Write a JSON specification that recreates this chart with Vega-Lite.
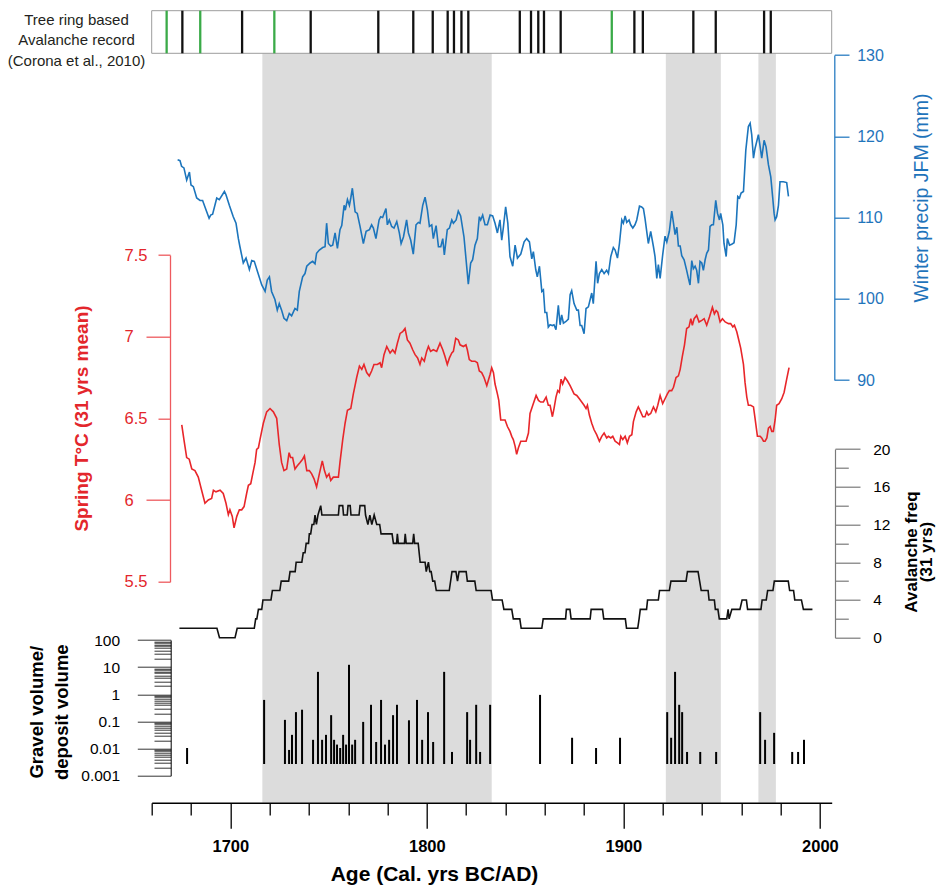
{
"$schema": "https://vega.github.io/schema/vega-lite/v6.json",
"width": 680, "height": 792,
"autosize": {"type": "none"},
"padding": {"left": 151.7, "top": 10.7, "right": 109.3, "bottom": 83.3},
"background": "white",
"config": {"view": {"stroke": null}, "axis": {"grid": false, "labelFont": "Liberation Sans", "titleFont": "Liberation Sans"}},
"datasets": {
"bands": [{"start": 1716.3, "end": 1833.0}, {"start": 1921.6, "end": 1949.6}, {"start": 1968.7, "end": 1977.6}],
"events": [
{"year": 1667.6, "kind": "green"}, {"year": 1675.6, "kind": "black"}, {"year": 1684.7, "kind": "green"}, {"year": 1706.0, "kind": "black"},
{"year": 1722.4, "kind": "green"}, {"year": 1740.9, "kind": "black"}, {"year": 1775.3, "kind": "black"}, {"year": 1793.1, "kind": "black"},
{"year": 1803.0, "kind": "black"}, {"year": 1810.6, "kind": "black"}, {"year": 1813.8, "kind": "black"}, {"year": 1817.6, "kind": "black"},
{"year": 1821.1, "kind": "black"}, {"year": 1847.3, "kind": "black"}, {"year": 1853.0, "kind": "black"}, {"year": 1856.7, "kind": "black"},
{"year": 1859.6, "kind": "black"}, {"year": 1868.1, "kind": "black"}, {"year": 1894.1, "kind": "green"}, {"year": 1905.6, "kind": "black"},
{"year": 1909.9, "kind": "black"}, {"year": 1935.6, "kind": "black"}, {"year": 1947.0, "kind": "black"}, {"year": 1971.6, "kind": "black"},
{"year": 1975.0, "kind": "black"}],
"precip": [
{"year":1673.2,"mm":117.1},{"year":1674.4,"mm":117.0},{"year":1675.2,"mm":116.3},{"year":1676.4,"mm":116.1},{"year":1677.8,"mm":114.6},{"year":1679.2,"mm":115.6},{"year":1680.0,"mm":114.0},{"year":1681.2,"mm":113.8},{"year":1682.9,"mm":112.4},{"year":1684.6,"mm":112.1},{"year":1685.9,"mm":112.1},{"year":1687.1,"mm":111.3},{"year":1689.2,"mm":109.9},{"year":1690.0,"mm":110.3},{"year":1691.0,"mm":110.4},{"year":1693.1,"mm":112.4},{"year":1694.4,"mm":112.2},{"year":1697.0,"mm":113.2},{"year":1697.8,"mm":112.8},{"year":1699.5,"mm":111.5},{"year":1701.5,"mm":110.1},{"year":1702.9,"mm":109.3},{"year":1704.1,"mm":107.4},{"year":1704.9,"mm":106.4},{"year":1706.6,"mm":104.4},{"year":1708.0,"mm":105.0},{"year":1709.7,"mm":103.6},{"year":1710.9,"mm":104.7},{"year":1712.2,"mm":104.6},{"year":1713.9,"mm":103.3},{"year":1716.0,"mm":101.7},{"year":1717.7,"mm":100.9},{"year":1718.8,"mm":102.3},{"year":1719.9,"mm":102.7},{"year":1721.0,"mm":100.9},{"year":1722.7,"mm":99.9},{"year":1723.9,"mm":98.6},{"year":1724.9,"mm":99.4},{"year":1726.1,"mm":98.6},{"year":1727.3,"mm":97.6},{"year":1728.7,"mm":97.3},{"year":1730.0,"mm":98.2},{"year":1731.2,"mm":97.9},{"year":1732.9,"mm":98.8},{"year":1734.1,"mm":98.6},{"year":1735.1,"mm":100.9},{"year":1736.8,"mm":102.7},{"year":1738.0,"mm":103.1},{"year":1738.9,"mm":104.0},{"year":1740.6,"mm":104.4},{"year":1741.9,"mm":104.6},{"year":1743.1,"mm":104.3},{"year":1743.9,"mm":105.6},{"year":1745.3,"mm":106.0},{"year":1747.0,"mm":106.3},{"year":1748.2,"mm":106.4},{"year":1749.0,"mm":109.3},{"year":1749.9,"mm":106.8},{"year":1751.1,"mm":106.5},{"year":1752.1,"mm":106.6},{"year":1753.3,"mm":108.1},{"year":1754.5,"mm":106.2},{"year":1755.8,"mm":108.5},{"year":1756.7,"mm":109.0},{"year":1757.9,"mm":111.5},{"year":1758.5,"mm":110.9},{"year":1759.6,"mm":112.2},{"year":1760.6,"mm":111.5},{"year":1761.3,"mm":112.4},{"year":1762.1,"mm":113.6},{"year":1763.5,"mm":110.7},{"year":1764.6,"mm":110.5},{"year":1766.0,"mm":108.9},{"year":1767.7,"mm":106.8},{"year":1769.1,"mm":108.3},{"year":1770.8,"mm":108.5},{"year":1771.9,"mm":109.1},{"year":1772.8,"mm":108.7},{"year":1774.1,"mm":107.4},{"year":1775.7,"mm":109.7},{"year":1776.5,"mm":110.1},{"year":1777.5,"mm":110.0},{"year":1779.2,"mm":111.1},{"year":1779.9,"mm":109.1},{"year":1780.9,"mm":109.7},{"year":1782.1,"mm":108.9},{"year":1783.3,"mm":108.7},{"year":1784.7,"mm":109.5},{"year":1786.0,"mm":108.1},{"year":1786.9,"mm":106.8},{"year":1788.1,"mm":107.6},{"year":1789.7,"mm":109.7},{"year":1790.6,"mm":108.1},{"year":1791.8,"mm":107.2},{"year":1793.1,"mm":105.5},{"year":1794.5,"mm":109.1},{"year":1795.7,"mm":109.4},{"year":1796.5,"mm":109.3},{"year":1797.9,"mm":111.5},{"year":1799.1,"mm":112.5},{"year":1800.3,"mm":110.9},{"year":1801.3,"mm":108.9},{"year":1802.5,"mm":109.1},{"year":1803.3,"mm":107.4},{"year":1804.7,"mm":109.0},{"year":1805.9,"mm":106.4},{"year":1807.1,"mm":106.4},{"year":1808.1,"mm":107.4},{"year":1808.9,"mm":105.4},{"year":1810.4,"mm":108.5},{"year":1811.5,"mm":108.7},{"year":1812.7,"mm":109.7},{"year":1813.5,"mm":109.3},{"year":1814.9,"mm":109.7},{"year":1816.0,"mm":110.8},{"year":1817.2,"mm":110.2},{"year":1818.9,"mm":107.6},{"year":1821.1,"mm":101.8},{"year":1822.3,"mm":104.4},{"year":1823.3,"mm":104.8},{"year":1824.5,"mm":106.6},{"year":1825.7,"mm":107.4},{"year":1826.7,"mm":110.1},{"year":1827.4,"mm":109.7},{"year":1828.4,"mm":110.3},{"year":1829.6,"mm":109.1},{"year":1830.8,"mm":109.1},{"year":1832.2,"mm":110.3},{"year":1833.5,"mm":110.2},{"year":1834.7,"mm":109.3},{"year":1835.9,"mm":108.1},{"year":1837.2,"mm":109.7},{"year":1838.1,"mm":107.2},{"year":1838.9,"mm":108.7},{"year":1840.1,"mm":111.3},{"year":1841.2,"mm":109.3},{"year":1842.3,"mm":105.2},{"year":1843.7,"mm":104.0},{"year":1844.9,"mm":106.6},{"year":1846.1,"mm":105.0},{"year":1847.8,"mm":105.5},{"year":1849.5,"mm":107.0},{"year":1850.8,"mm":107.4},{"year":1852.2,"mm":107.0},{"year":1853.4,"mm":104.9},{"year":1854.2,"mm":105.8},{"year":1855.4,"mm":103.6},{"year":1856.2,"mm":102.7},{"year":1857.3,"mm":104.0},{"year":1858.5,"mm":100.9},{"year":1859.3,"mm":101.1},{"year":1860.1,"mm":98.3},{"year":1861.0,"mm":98.3},{"year":1861.8,"mm":96.5},{"year":1862.7,"mm":96.8},{"year":1863.9,"mm":96.7},{"year":1864.7,"mm":96.8},{"year":1865.7,"mm":96.2},{"year":1866.9,"mm":99.2},{"year":1867.8,"mm":96.8},{"year":1868.6,"mm":98.0},{"year":1869.5,"mm":97.0},{"year":1870.8,"mm":97.2},{"year":1872.0,"mm":97.5},{"year":1872.9,"mm":100.5},{"year":1873.7,"mm":101.0},{"year":1874.9,"mm":99.4},{"year":1876.3,"mm":98.6},{"year":1877.1,"mm":98.6},{"year":1878.0,"mm":96.7},{"year":1878.8,"mm":96.7},{"year":1880.0,"mm":95.7},{"year":1881.0,"mm":98.8},{"year":1882.2,"mm":99.0},{"year":1883.9,"mm":100.7},{"year":1884.7,"mm":99.4},{"year":1886.1,"mm":104.6},{"year":1886.9,"mm":101.9},{"year":1887.8,"mm":103.1},{"year":1889.0,"mm":103.6},{"year":1890.2,"mm":103.1},{"year":1891.5,"mm":103.5},{"year":1892.4,"mm":103.1},{"year":1893.6,"mm":105.2},{"year":1894.9,"mm":106.3},{"year":1895.8,"mm":106.0},{"year":1897.0,"mm":105.0},{"year":1898.0,"mm":106.8},{"year":1899.2,"mm":109.7},{"year":1900.0,"mm":109.3},{"year":1900.9,"mm":110.2},{"year":1901.7,"mm":109.4},{"year":1902.9,"mm":109.7},{"year":1903.7,"mm":109.1},{"year":1904.8,"mm":108.7},{"year":1905.9,"mm":109.1},{"year":1906.8,"mm":109.7},{"year":1908.2,"mm":111.4},{"year":1909.3,"mm":111.3},{"year":1910.2,"mm":111.1},{"year":1911.0,"mm":109.9},{"year":1912.7,"mm":106.8},{"year":1913.9,"mm":108.3},{"year":1915.3,"mm":106.4},{"year":1916.1,"mm":105.2},{"year":1917.0,"mm":102.5},{"year":1917.8,"mm":104.2},{"year":1918.7,"mm":102.5},{"year":1920.0,"mm":105.4},{"year":1921.2,"mm":107.7},{"year":1922.1,"mm":107.0},{"year":1923.4,"mm":108.3},{"year":1924.6,"mm":110.8},{"year":1925.5,"mm":109.3},{"year":1926.3,"mm":107.9},{"year":1927.2,"mm":108.8},{"year":1928.0,"mm":106.5},{"year":1928.9,"mm":106.5},{"year":1929.7,"mm":105.3},{"year":1930.9,"mm":104.8},{"year":1932.2,"mm":103.5},{"year":1933.1,"mm":102.5},{"year":1933.9,"mm":101.7},{"year":1934.8,"mm":104.7},{"year":1935.6,"mm":103.7},{"year":1936.5,"mm":104.0},{"year":1937.3,"mm":103.5},{"year":1938.2,"mm":101.9},{"year":1939.0,"mm":104.6},{"year":1939.9,"mm":104.4},{"year":1940.7,"mm":103.5},{"year":1941.6,"mm":104.8},{"year":1942.4,"mm":105.6},{"year":1943.3,"mm":106.0},{"year":1944.1,"mm":108.9},{"year":1945.0,"mm":109.1},{"year":1945.8,"mm":109.1},{"year":1947.0,"mm":112.1},{"year":1947.9,"mm":110.5},{"year":1948.9,"mm":109.7},{"year":1949.5,"mm":110.5},{"year":1950.6,"mm":109.1},{"year":1951.2,"mm":106.8},{"year":1952.3,"mm":105.2},{"year":1952.9,"mm":107.4},{"year":1954.0,"mm":106.6},{"year":1955.1,"mm":106.7},{"year":1956.3,"mm":106.9},{"year":1957.4,"mm":109.1},{"year":1958.2,"mm":112.6},{"year":1959.1,"mm":112.4},{"year":1959.9,"mm":113.0},{"year":1961.1,"mm":113.2},{"year":1962.3,"mm":118.3},{"year":1963.6,"mm":121.2},{"year":1964.5,"mm":121.6},{"year":1965.3,"mm":120.2},{"year":1966.2,"mm":117.3},{"year":1967.0,"mm":118.5},{"year":1968.7,"mm":120.2},{"year":1969.6,"mm":118.7},{"year":1970.4,"mm":117.3},{"year":1971.6,"mm":119.5},{"year":1972.6,"mm":118.7},{"year":1973.8,"mm":116.5},{"year":1975.0,"mm":115.0},{"year":1976.0,"mm":112.4},{"year":1976.7,"mm":110.5},{"year":1977.2,"mm":109.7},{"year":1978.0,"mm":110.1},{"year":1978.9,"mm":111.5},{"year":1979.7,"mm":114.4},{"year":1981.4,"mm":114.4},{"year":1983.1,"mm":114.3},{"year":1984.0,"mm":112.6}],
"temp": [
{"year":1675.3,"t":6.46},{"year":1676.4,"t":6.37},{"year":1677.8,"t":6.26},{"year":1679.1,"t":6.25},{"year":1680.4,"t":6.19},{"year":1682.0,"t":6.18},{"year":1683.7,"t":6.14},{"year":1685.4,"t":6.06},{"year":1687.1,"t":5.98},{"year":1688.8,"t":6.0},{"year":1690.5,"t":6.01},{"year":1691.4,"t":6.06},{"year":1692.7,"t":6.05},{"year":1694.8,"t":6.06},{"year":1696.4,"t":6.04},{"year":1697.8,"t":5.98},{"year":1699.0,"t":5.91},{"year":1699.8,"t":5.94},{"year":1701.0,"t":5.9},{"year":1701.9,"t":5.83},{"year":1703.3,"t":5.9},{"year":1704.6,"t":5.94},{"year":1705.8,"t":5.94},{"year":1707.0,"t":5.96},{"year":1708.3,"t":6.04},{"year":1709.2,"t":6.09},{"year":1710.4,"t":6.1},{"year":1711.4,"t":6.16},{"year":1712.6,"t":6.23},{"year":1713.4,"t":6.31},{"year":1714.3,"t":6.32},{"year":1715.1,"t":6.37},{"year":1716.8,"t":6.47},{"year":1718.5,"t":6.54},{"year":1720.2,"t":6.56},{"year":1721.9,"t":6.54},{"year":1723.6,"t":6.5},{"year":1724.9,"t":6.34},{"year":1726.1,"t":6.23},{"year":1727.3,"t":6.18},{"year":1728.7,"t":6.19},{"year":1729.9,"t":6.29},{"year":1730.7,"t":6.26},{"year":1731.7,"t":6.26},{"year":1732.9,"t":6.19},{"year":1734.1,"t":6.21},{"year":1735.5,"t":6.23},{"year":1736.8,"t":6.25},{"year":1737.7,"t":6.27},{"year":1738.9,"t":6.18},{"year":1740.2,"t":6.18},{"year":1741.4,"t":6.16},{"year":1742.6,"t":6.13},{"year":1743.9,"t":6.08},{"year":1745.3,"t":6.16},{"year":1746.8,"t":6.24},{"year":1747.9,"t":6.18},{"year":1749.0,"t":6.14},{"year":1750.2,"t":6.16},{"year":1751.1,"t":6.12},{"year":1752.4,"t":6.14},{"year":1753.8,"t":6.14},{"year":1755.0,"t":6.14},{"year":1755.8,"t":6.23},{"year":1757.2,"t":6.37},{"year":1758.4,"t":6.47},{"year":1759.6,"t":6.55},{"year":1761.3,"t":6.56},{"year":1762.6,"t":6.65},{"year":1764.3,"t":6.75},{"year":1765.7,"t":6.82},{"year":1766.9,"t":6.8},{"year":1768.0,"t":6.83},{"year":1769.4,"t":6.78},{"year":1770.7,"t":6.76},{"year":1771.9,"t":6.79},{"year":1773.1,"t":6.83},{"year":1774.8,"t":6.83},{"year":1776.2,"t":6.84},{"year":1777.0,"t":6.81},{"year":1778.2,"t":6.89},{"year":1779.6,"t":6.94},{"year":1781.3,"t":6.9},{"year":1782.6,"t":6.92},{"year":1783.8,"t":6.9},{"year":1785.0,"t":6.96},{"year":1786.4,"t":7.02},{"year":1787.7,"t":7.03},{"year":1788.9,"t":7.05},{"year":1790.1,"t":6.98},{"year":1791.4,"t":6.96},{"year":1792.8,"t":6.92},{"year":1794.0,"t":6.89},{"year":1795.3,"t":6.87},{"year":1796.5,"t":6.83},{"year":1797.4,"t":6.87},{"year":1798.7,"t":6.85},{"year":1799.9,"t":6.91},{"year":1800.8,"t":6.94},{"year":1801.9,"t":6.91},{"year":1803.3,"t":6.92},{"year":1805.0,"t":6.91},{"year":1806.7,"t":6.96},{"year":1808.1,"t":6.92},{"year":1809.2,"t":6.88},{"year":1810.4,"t":6.83},{"year":1811.5,"t":6.87},{"year":1812.7,"t":6.9},{"year":1813.5,"t":6.91},{"year":1814.7,"t":6.99},{"year":1816.0,"t":6.98},{"year":1816.9,"t":6.95},{"year":1818.6,"t":6.94},{"year":1819.9,"t":6.95},{"year":1820.6,"t":6.92},{"year":1821.6,"t":6.86},{"year":1822.8,"t":6.85},{"year":1824.5,"t":6.85},{"year":1825.7,"t":6.84},{"year":1826.7,"t":6.79},{"year":1827.9,"t":6.78},{"year":1829.1,"t":6.75},{"year":1830.5,"t":6.7},{"year":1832.2,"t":6.77},{"year":1833.0,"t":6.81},{"year":1833.9,"t":6.78},{"year":1834.7,"t":6.71},{"year":1835.9,"t":6.65},{"year":1836.6,"t":6.61},{"year":1837.6,"t":6.49},{"year":1838.9,"t":6.49},{"year":1839.8,"t":6.49},{"year":1841.0,"t":6.45},{"year":1842.3,"t":6.42},{"year":1843.2,"t":6.39},{"year":1844.0,"t":6.37},{"year":1844.9,"t":6.33},{"year":1845.7,"t":6.28},{"year":1846.6,"t":6.32},{"year":1847.8,"t":6.36},{"year":1849.1,"t":6.36},{"year":1850.5,"t":6.36},{"year":1851.7,"t":6.41},{"year":1852.5,"t":6.53},{"year":1853.9,"t":6.58},{"year":1855.6,"t":6.64},{"year":1856.8,"t":6.61},{"year":1857.9,"t":6.6},{"year":1859.3,"t":6.6},{"year":1860.7,"t":6.63},{"year":1861.8,"t":6.58},{"year":1862.7,"t":6.58},{"year":1863.9,"t":6.51},{"year":1864.7,"t":6.56},{"year":1865.7,"t":6.63},{"year":1866.6,"t":6.67},{"year":1867.4,"t":6.66},{"year":1868.3,"t":6.74},{"year":1869.1,"t":6.71},{"year":1870.3,"t":6.75},{"year":1871.5,"t":6.73},{"year":1872.9,"t":6.7},{"year":1873.7,"t":6.68},{"year":1874.9,"t":6.65},{"year":1876.3,"t":6.64},{"year":1877.6,"t":6.62},{"year":1878.8,"t":6.6},{"year":1880.0,"t":6.58},{"year":1881.0,"t":6.56},{"year":1881.7,"t":6.58},{"year":1882.7,"t":6.52},{"year":1883.9,"t":6.47},{"year":1885.1,"t":6.43},{"year":1886.4,"t":6.4},{"year":1887.8,"t":6.36},{"year":1889.0,"t":6.39},{"year":1890.2,"t":6.41},{"year":1891.5,"t":6.38},{"year":1892.4,"t":6.39},{"year":1893.6,"t":6.38},{"year":1894.6,"t":6.39},{"year":1895.8,"t":6.36},{"year":1897.0,"t":6.35},{"year":1898.0,"t":6.34},{"year":1898.7,"t":6.39},{"year":1899.7,"t":6.37},{"year":1900.9,"t":6.39},{"year":1902.0,"t":6.35},{"year":1903.1,"t":6.39},{"year":1904.3,"t":6.4},{"year":1905.1,"t":6.48},{"year":1906.5,"t":6.54},{"year":1907.6,"t":6.57},{"year":1908.8,"t":6.54},{"year":1909.9,"t":6.51},{"year":1911.0,"t":6.51},{"year":1911.9,"t":6.54},{"year":1912.7,"t":6.52},{"year":1913.9,"t":6.53},{"year":1915.3,"t":6.57},{"year":1916.5,"t":6.54},{"year":1917.5,"t":6.58},{"year":1918.7,"t":6.64},{"year":1920.0,"t":6.59},{"year":1921.2,"t":6.62},{"year":1922.4,"t":6.65},{"year":1923.4,"t":6.67},{"year":1924.6,"t":6.67},{"year":1925.5,"t":6.69},{"year":1926.8,"t":6.75},{"year":1928.0,"t":6.76},{"year":1928.9,"t":6.8},{"year":1930.0,"t":6.88},{"year":1931.1,"t":6.95},{"year":1932.2,"t":7.05},{"year":1933.4,"t":7.06},{"year":1934.3,"t":7.11},{"year":1935.1,"t":7.07},{"year":1936.0,"t":7.11},{"year":1937.3,"t":7.13},{"year":1938.5,"t":7.09},{"year":1939.9,"t":7.1},{"year":1941.1,"t":7.11},{"year":1942.4,"t":7.07},{"year":1943.8,"t":7.12},{"year":1945.3,"t":7.18},{"year":1946.3,"t":7.14},{"year":1947.2,"t":7.16},{"year":1948.0,"t":7.15},{"year":1949.2,"t":7.09},{"year":1950.4,"t":7.11},{"year":1951.8,"t":7.09},{"year":1953.5,"t":7.08},{"year":1954.6,"t":7.08},{"year":1955.7,"t":7.06},{"year":1956.5,"t":7.07},{"year":1957.7,"t":7.03},{"year":1958.5,"t":6.99},{"year":1959.7,"t":6.93},{"year":1961.1,"t":6.83},{"year":1961.9,"t":6.72},{"year":1962.8,"t":6.63},{"year":1963.6,"t":6.58},{"year":1964.8,"t":6.58},{"year":1966.2,"t":6.57},{"year":1967.0,"t":6.5},{"year":1968.2,"t":6.39},{"year":1969.6,"t":6.39},{"year":1970.4,"t":6.38},{"year":1971.3,"t":6.36},{"year":1972.1,"t":6.36},{"year":1973.0,"t":6.38},{"year":1973.8,"t":6.44},{"year":1974.7,"t":6.45},{"year":1975.5,"t":6.42},{"year":1976.3,"t":6.42},{"year":1977.2,"t":6.49},{"year":1978.0,"t":6.58},{"year":1979.2,"t":6.59},{"year":1980.6,"t":6.62},{"year":1981.8,"t":6.66},{"year":1983.1,"t":6.74},{"year":1984.3,"t":6.81}],
"aval": [
{"year":1674.1,"n":1},{"year":1693.2,"n":1},{"year":1694.5,"n":0},{"year":1702.4,"n":0},{"year":1703.5,"n":1},{"year":1712.2,"n":1},{"year":1712.9,"n":2},{"year":1713.5,"n":2},{"year":1714.3,"n":3},{"year":1716.0,"n":3},{"year":1716.6,"n":4},{"year":1720.7,"n":4},{"year":1721.4,"n":5},{"year":1725.2,"n":5},{"year":1725.9,"n":6},{"year":1729.7,"n":6},{"year":1730.4,"n":7},{"year":1733.0,"n":7},{"year":1733.5,"n":8},{"year":1736.4,"n":8},{"year":1737.1,"n":9},{"year":1738.0,"n":9},{"year":1738.6,"n":10},{"year":1739.8,"n":10},{"year":1740.2,"n":11},{"year":1740.9,"n":11},{"year":1741.6,"n":12},{"year":1742.5,"n":12},{"year":1743.1,"n":13},{"year":1743.8,"n":12},{"year":1744.6,"n":13},{"year":1746.0,"n":14},{"year":1746.6,"n":13},{"year":1755.0,"n":13},{"year":1755.4,"n":14},{"year":1757.2,"n":14},{"year":1757.6,"n":13},{"year":1759.5,"n":13},{"year":1759.9,"n":14},{"year":1761.0,"n":14},{"year":1761.4,"n":13},{"year":1765.5,"n":13},{"year":1766.0,"n":14},{"year":1768.4,"n":14},{"year":1768.8,"n":13},{"year":1770.0,"n":12},{"year":1771.0,"n":13},{"year":1772.0,"n":12},{"year":1773.2,"n":13},{"year":1774.5,"n":12},{"year":1776.0,"n":12},{"year":1776.7,"n":11},{"year":1782.3,"n":11},{"year":1783.0,"n":10},{"year":1784.6,"n":10},{"year":1785.0,"n":11},{"year":1785.5,"n":10},{"year":1788.6,"n":10},{"year":1789.0,"n":11},{"year":1789.5,"n":10},{"year":1792.8,"n":10},{"year":1793.3,"n":11},{"year":1793.8,"n":10},{"year":1795.6,"n":10},{"year":1796.6,"n":8},{"year":1799.1,"n":8},{"year":1799.7,"n":7},{"year":1800.8,"n":8},{"year":1801.5,"n":7},{"year":1802.2,"n":7},{"year":1803.0,"n":6},{"year":1804.0,"n":6},{"year":1804.8,"n":5},{"year":1811.4,"n":5},{"year":1812.8,"n":7},{"year":1814.8,"n":7},{"year":1815.6,"n":6},{"year":1816.4,"n":7},{"year":1820.0,"n":7},{"year":1820.6,"n":6},{"year":1824.4,"n":6},{"year":1825.1,"n":5},{"year":1832.7,"n":5},{"year":1833.4,"n":4},{"year":1838.3,"n":4},{"year":1839.2,"n":3},{"year":1843.2,"n":3},{"year":1844.0,"n":2},{"year":1847.3,"n":2},{"year":1848.0,"n":1},{"year":1858.5,"n":1},{"year":1859.2,"n":2},{"year":1870.6,"n":2},{"year":1871.0,"n":3},{"year":1872.8,"n":3},{"year":1873.4,"n":2},{"year":1883.1,"n":2},{"year":1883.6,"n":3},{"year":1889.4,"n":3},{"year":1890.0,"n":2},{"year":1901.0,"n":2},{"year":1901.6,"n":1},{"year":1907.3,"n":1},{"year":1908.0,"n":2},{"year":1908.6,"n":3},{"year":1911.8,"n":3},{"year":1912.3,"n":4},{"year":1917.8,"n":4},{"year":1918.4,"n":5},{"year":1923.4,"n":5},{"year":1924.2,"n":6},{"year":1931.9,"n":6},{"year":1932.6,"n":7},{"year":1938.0,"n":7},{"year":1938.8,"n":6},{"year":1939.6,"n":5},{"year":1943.1,"n":5},{"year":1943.6,"n":4},{"year":1946.3,"n":4},{"year":1946.8,"n":3},{"year":1948.1,"n":3},{"year":1948.8,"n":2},{"year":1952.6,"n":2},{"year":1953.3,"n":3},{"year":1953.8,"n":2},{"year":1955.2,"n":3},{"year":1959.3,"n":3},{"year":1960.4,"n":4},{"year":1962.6,"n":4},{"year":1963.2,"n":3},{"year":1970.0,"n":3},{"year":1970.6,"n":4},{"year":1972.7,"n":4},{"year":1973.4,"n":5},{"year":1976.1,"n":5},{"year":1976.8,"n":6},{"year":1983.9,"n":6},{"year":1984.6,"n":5},{"year":1986.6,"n":5},{"year":1987.2,"n":4},{"year":1990.6,"n":4},{"year":1991.6,"n":3},{"year":1996.2,"n":3}],
"gravel": [
{"year":1678.0,"r":0.0105},{"year":1717.2,"r":0.62},{"year":1727.8,"r":0.114},{"year":1729.9,"r":0.0089},{"year":1731.4,"r":0.032},{"year":1733.4,"r":0.22},{"year":1736.5,"r":0.27},{"year":1742.1,"r":0.021},{"year":1744.6,"r":6.7},{"year":1746.7,"r":0.021},{"year":1748.7,"r":0.032},{"year":1751.3,"r":0.17},{"year":1752.8,"r":0.021},{"year":1754.3,"r":0.014},{"year":1755.9,"r":0.0105},{"year":1757.4,"r":0.032},{"year":1758.9,"r":0.014},{"year":1760.4,"r":12.2},{"year":1762.0,"r":0.014},{"year":1763.5,"r":0.021},{"year":1767.6,"r":0.096},{"year":1771.6,"r":0.41},{"year":1774.2,"r":0.0175},{"year":1776.7,"r":0.62},{"year":1778.7,"r":0.014},{"year":1780.8,"r":0.021},{"year":1782.8,"r":0.17},{"year":1784.8,"r":0.41},{"year":1790.9,"r":0.11},{"year":1795.0,"r":0.62},{"year":1797.6,"r":0.021},{"year":1800.6,"r":0.22},{"year":1803.2,"r":0.0175},{"year":1808.8,"r":6.7},{"year":1812.8,"r":0.0075},{"year":1820.5,"r":0.22},{"year":1822.0,"r":0.021},{"year":1825.1,"r":0.41},{"year":1827.1,"r":0.0075},{"year":1832.2,"r":0.41},{"year":1857.6,"r":0.95},{"year":1873.9,"r":0.025},{"year":1886.1,"r":0.0105},{"year":1898.3,"r":0.025},{"year":1922.3,"r":0.22},{"year":1924.3,"r":0.025},{"year":1926.3,"r":6.7},{"year":1928.4,"r":0.41},{"year":1929.9,"r":0.22},{"year":1932.4,"r":0.0075},{"year":1939.1,"r":0.0075},{"year":1947.2,"r":0.0075},{"year":1969.6,"r":0.22},{"year":1972.1,"r":0.021},{"year":1976.7,"r":0.038},{"year":1985.9,"r":0.0075},{"year":1988.9,"r":0.0075},{"year":1991.9,"r":0.021}]
},
"resolve": {"scale": {"x": "independent", "y": "independent"}, "axis": {"x": "independent", "y": "independent"}},
"layer": [
{"data": {"name": "bands"}, "mark": {"type": "rect", "color": "#dcdcdc"},
 "encoding": {
  "x": {"field": "start", "type": "quantitative", "scale": {"domain": [1660, 2006], "nice": false, "zero": false},
   "axis": {"orient": "bottom", "values": [1660,1680,1700,1720,1740,1760,1780,1800,1820,1840,1860,1880,1900,1920,1940,1960,1980,2000],
    "format": "d", "labelExpr": "datum.value % 100 === 0 ? datum.label : ''",
    "tickSize": {"condition": {"test": "datum.value % 100 === 0", "value": 25.6}, "value": 12.3},
    "tickColor": "black", "tickWidth": 1.3, "domainColor": "black", "domainWidth": 1.5,
    "labelPadding": 18.4, "labelBaseline": "middle", "labelFont": "Liberation Sans", "labelFontWeight": "bold", "labelFontSize": 16.5, "labelColor": "black", "labelFlush": false, "labelOverlap": false,
    "title": "Age (Cal. yrs BC/AD)", "titleFont": "Liberation Sans", "titleFontWeight": "bold", "titleFontSize": 21, "titleColor": "black",
    "titleX": 282.3, "titleY": 72, "titleAlign": "center", "titleBaseline": "middle", "zindex": 1}},
  "x2": {"field": "end"}}},
{"data": {"values": [{}]}, "mark": {"type": "rect", "fill": "white", "stroke": "#9d9d9d", "strokeWidth": 1},
 "encoding": {
  "y": {"datum": 0, "type": "quantitative", "scale": {"domain": [0, 1], "range": [42.6, 0], "nice": false, "zero": false},
   "axis": {"orient": "left", "domain": false, "ticks": false, "labels": false,
    "title": ["Tree ring based", "Avalanche record", "(Corona et al., 2010)"], "titleAngle": 0, "titleX": -75.7, "titleY": 8.3,
    "titleAlign": "center", "titleBaseline": "middle", "titleFontSize": 15, "titleFontWeight": "normal", "titleLineHeight": 20.7, "titleColor": "#231f20"}},
  "y2": {"datum": 1}}},
{"data": {"name": "events"}, "mark": {"type": "rule", "strokeWidth": 2.3},
 "encoding": {"x": {"field": "year", "type": "quantitative", "scale": {"domain": [1660, 2006], "nice": false, "zero": false}, "axis": null},
  "y": {"datum": 0, "type": "quantitative", "scale": {"domain": [0, 1], "range": [42.6, 0], "nice": false, "zero": false}, "axis": null}, "y2": {"datum": 1},
  "color": {"field": "kind", "type": "nominal", "scale": {"domain": ["black", "green"], "range": ["#111111", "#3aaa48"]}, "legend": null}}},
{"data": {"name": "precip"}, "mark": {"type": "line", "color": "#1c75bc", "strokeWidth": 1.6},
 "encoding": {"x": {"field": "year", "type": "quantitative", "scale": {"domain": [1660, 2006], "nice": false, "zero": false}, "axis": null},
  "y": {"field": "mm", "type": "quantitative", "scale": {"domain": [90, 130], "range": [369.3, 44.3], "nice": false, "zero": false},
   "axis": {"orient": "right", "offset": 2.6, "values": [90,100,110,120,130], "tickSize": 14.7, "labelPadding": 7.7, "labelBaseline": "middle",
    "labelFontSize": 16, "labelColor": "#1f74bb", "tickColor": "#2a7dc2", "domainColor": "#2a7dc2", "tickWidth": 1.3, "domainWidth": 1.3,
    "title": "Winter precip JFM (mm)", "titleColor": "#1f74bb", "titleFontSize": 19.5, "titleFontWeight": "normal", "titleAngle": 270,
    "titleX": 87.4, "titleY": 186.8, "titleAlign": "center", "titleBaseline": "middle", "labelFlush": false, "labelOverlap": false, "zindex": 1}}}},
{"data": {"name": "temp"}, "mark": {"type": "line", "color": "#e8262a", "strokeWidth": 1.6},
 "encoding": {"x": {"field": "year", "type": "quantitative", "scale": {"domain": [1660, 2006], "nice": false, "zero": false}, "axis": null},
  "y": {"field": "t", "type": "quantitative", "scale": {"domain": [5.5, 7.5], "range": [571, 244.3], "nice": false, "zero": false},
   "axis": {"orient": "left", "offset": -18.3, "values": [5.5, 6, 6.5, 7, 7.5], "format": "~g",
    "tickSize": {"condition": {"test": "datum.value % 1 === 0", "value": 24}, "value": 12},
    "labelPadding": {"condition": {"test": "datum.value % 1 === 0", "value": 22}, "value": 34},
    "labelAlign": "left", "labelBaseline": "middle", "labelFontSize": 16.5, "labelColor": "#e3262c", "tickColor": "#ee5a5e", "domainColor": "#ee5a5e", "tickWidth": 1.3, "domainWidth": 1.3,
    "labelFlush": false, "labelOverlap": false,
    "title": "Spring T°C (31 yrs mean)", "titleColor": "#e3262c", "titleFontSize": 19, "titleFontWeight": "bold", "titleAngle": 270,
    "titleX": -88.3, "titleY": 407.3, "titleAlign": "center", "titleBaseline": "middle", "zindex": 1}}}},
{"data": {"name": "aval"}, "mark": {"type": "line", "color": "#111111", "strokeWidth": 1.6},
 "encoding": {"x": {"field": "year", "type": "quantitative", "scale": {"domain": [1660, 2006], "nice": false, "zero": false}, "axis": null},
  "y": {"field": "n", "type": "quantitative", "scale": {"domain": [0, 20], "range": [627, 438.3], "nice": false, "zero": false},
   "axis": {"orient": "right", "offset": 3.3, "values": [0,2,4,6,8,10,12,14,16,18,20],
    "tickSize": {"condition": {"test": "datum.value % 4 === 0", "value": 25}, "value": 13.3},
    "labelExpr": "datum.value % 4 === 0 ? datum.label : ''",
    "labelPadding": 12.7, "labelBaseline": "middle", "labelFontSize": 15.5, "labelColor": "black", "tickColor": "#7a7a7a", "domainColor": "#7a7a7a", "tickWidth": 1.2, "domainWidth": 1.2,
    "title": ["Avalanche freq", "(31 yrs)"], "titleFontSize": 17, "titleFontWeight": "bold", "titleColor": "black", "titleAngle": 270,
    "titleX": 76.7, "titleY": 540.8, "titleAlign": "center", "titleBaseline": "middle", "titleLineHeight": 15, "labelFlush": false, "labelOverlap": false, "zindex": 1}}}},
{"data": {"name": "gravel"}, "mark": {"type": "rule", "color": "black", "strokeWidth": 2},
 "encoding": {"x": {"field": "year", "type": "quantitative", "scale": {"domain": [1660, 2006], "nice": false, "zero": false}, "axis": null},
  "y": {"field": "r", "type": "quantitative", "scale": {"type": "log", "domain": [0.001, 100], "range": [765, 629.3], "nice": false},
   "axis": {"orient": "left", "offset": -19,
    "values": [0.001,0.002,0.003,0.004,0.005,0.006,0.007,0.008,0.009,0.01,0.02,0.03,0.04,0.05,0.06,0.07,0.08,0.09,0.1,0.2,0.3,0.4,0.5,0.6,0.7,0.8,0.9,1,2,3,4,5,6,7,8,9,10,20,30,40,50,60,70,80,90,100],
    "tickSize": {"condition": {"test": "abs(log(datum.value)/LN10 - round(log(datum.value)/LN10)) < 0.001", "value": 33.4}, "value": 16.7},
    "labelExpr": "abs(log(datum.value)/LN10 - round(log(datum.value)/LN10)) < 0.001 ? format(datum.value, '~g') : ''",
    "labelPadding": 17.7, "labelBaseline": "middle", "labelFontSize": 15.5, "labelColor": "black", "tickColor": "black", "tickWidth": 0.8, "domainColor": "black", "domainWidth": 1,
    "labelFlush": false, "labelOverlap": false,
    "title": ["Gravel volume/", "deposit volume"], "titleFontSize": 18.5, "titleFontWeight": "bold", "titleColor": "black", "titleAngle": 270,
    "titleX": -134, "titleY": 701, "titleAlign": "center", "titleBaseline": "middle", "titleLineHeight": 25, "zindex": 1}},
  "y2": {"datum": 0.0027}}}
]
}
